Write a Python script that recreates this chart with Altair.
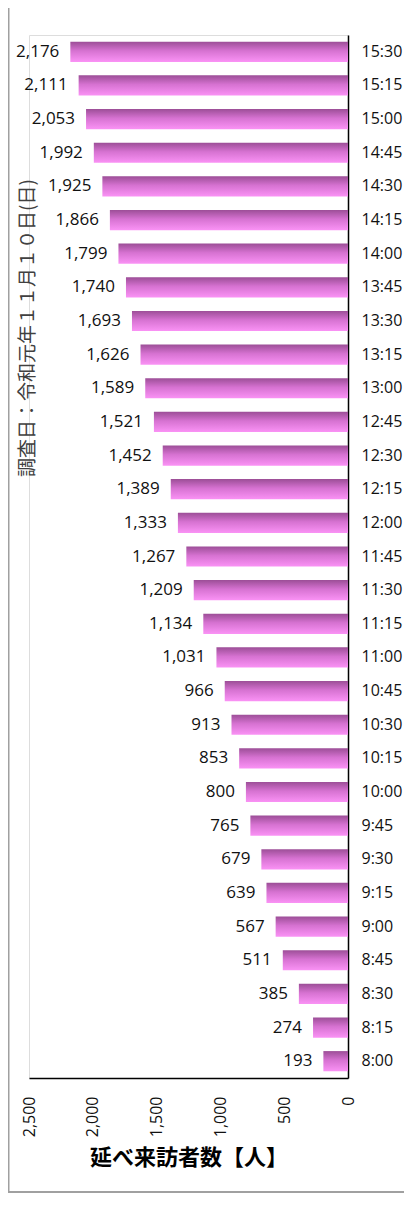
import altair as alt
import pandas as pd

times = ["8:00", "8:15", "8:30", "8:45", "9:00", "9:15", "9:30", "9:45",
         "10:00", "10:15", "10:30", "10:45", "11:00", "11:15", "11:30", "11:45",
         "12:00", "12:15", "12:30", "12:45", "13:00", "13:15", "13:30", "13:45",
         "14:00", "14:15", "14:30", "14:45", "15:00", "15:15", "15:30"]
visitors = [193, 274, 385, 511, 567, 639, 679, 765,
            800, 853, 913, 966, 1031, 1134, 1209, 1267,
            1333, 1389, 1452, 1521, 1589, 1626, 1693, 1740,
            1799, 1866, 1925, 1992, 2053, 2111, 2176]
x_ticks = [0, 500, 1000, 1500, 2000, 2500]
axis_title = "延べ来訪者数【人】"
note = "調査日：令和元年１１月１０日(日)"

df = pd.DataFrame({"time": times, "visitors": visitors})
order = list(reversed(times))

W, H = 319, 1043
FONT = "Open Sans"
JP = "Noto Sans CJK JP"

gradient = alt.LinearGradient(
    gradient="linear", x1=0, y1=0, x2=0, y2=1,
    stops=[alt.GradientStop(color="#9c4e97", offset=0),
           alt.GradientStop(color="#d672d1", offset=0.45),
           alt.GradientStop(color="#fa92f5", offset=1)])

x_axis = alt.Axis(values=x_ticks, format=",.0f", labelAngle=270,
                  grid=False, ticks=False, tickSize=0,
                  labelPadding=18, labelFont=FONT, labelFontSize=16,
                  labelColor="#111111", domainColor="#000000",
                  domainWidth=1.5, title=axis_title,
                  titleFont=JP, titleFontSize=22, titleFontWeight="bold",
                  titleColor="#000000", titlePadding=11)
y_axis = alt.Axis(orient="right", ticks=False, tickSize=0, labelPadding=13,
                  labelFont=FONT, labelFontSize=16, labelColor="#111111",
                  domainColor="#000000", domainWidth=1.5, title=None)
x_scale = alt.Scale(domain=[0, 2500], reverse=True, nice=False)
y_scale = alt.Scale(paddingInner=0.4, paddingOuter=0.2)

def xe():
    return alt.X("visitors:Q", scale=x_scale, axis=x_axis)

def ye():
    return alt.Y("time:N", sort=order, scale=y_scale, axis=y_axis)

bars = alt.Chart(df).mark_bar(color=gradient).encode(x=xe(), y=ye())
labels = alt.Chart(df).mark_text(align="right", baseline="middle", dx=-11,
                                 font=FONT, fontSize=17, color="#111111").encode(
    x=xe(), y=ye(), text=alt.Text("visitors:Q", format=","))

one = pd.DataFrame({"k": [0]})
note_mark = alt.Chart(one).mark_text(angle=270, align="center", baseline="middle",
                                     font=JP, fontSize=19, color="#404040").encode(
    x=alt.value(-1.5), y=alt.value(293), text=alt.value(note))
frame_left = alt.Chart(one).mark_rule(color="#a0a0a0", strokeWidth=2).encode(
    x=alt.value(-20.5), y=alt.value(-40), y2=alt.value(1158))
frame_bottom = alt.Chart(one).mark_rule(color="#a0a0a0", strokeWidth=2).encode(
    y=alt.value(1157), x=alt.value(-21), x2=alt.value(390))

chart = alt.layer(frame_left, frame_bottom, bars, labels, note_mark).properties(
    width=W, height=H,
    autosize=alt.AutoSizeParams(type="none"),
    padding={"left": 21, "top": 27, "right": 56, "bottom": 116},
).configure_view(stroke="transparent", strokeWidth=0).configure(background="white")

chart.save("out.html", embed_options={"renderer": "svg", "actions": False})
